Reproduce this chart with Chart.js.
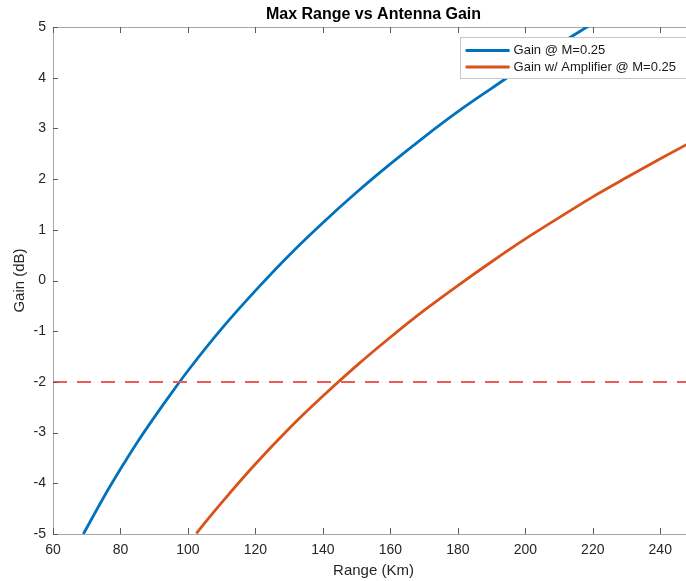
<!DOCTYPE html>
<html>
<head>
<meta charset="utf-8">
<title>Max Range vs Antenna Gain</title>
<script src="https://cdn.jsdelivr.net/npm/chart.js@4.4.1/dist/chart.umd.min.js"></script>
<style>
  html, body { margin: 0; padding: 0; background: #fff; }
  #wrap { width: 686px; height: 581px; overflow: hidden; }
  canvas { display: block; }
</style>
</head>
<body>
<div id="wrap"><canvas id="rangeChart" width="700" height="581"></canvas></div>
<script>
// --------------------------------
// Max range vs antenna gain
// --------------------------------

// Gain @ M=0.25
const rangePlain = [69, 75, 80, 85, 90, 95, 100, 110, 120, 130, 140, 150, 160, 170, 180, 190, 200, 210, 219];
const gainPlain  = [-5.00, -4.28, -3.72, -3.19, -2.70, -2.23, -1.78, -0.95, -0.20, 0.50, 1.14, 1.74, 2.30, 2.83, 3.33, 3.79, 4.24, 4.66, 5.03];

// Gain w/ amplifier @ M=0.25
const rangeAmp = [102.5, 105, 110, 120, 130, 140, 150, 160, 170, 180, 190, 200, 210, 220, 230, 240, 250];
const gainAmp  = [-4.99, -4.78, -4.38, -3.62, -2.92, -2.28, -1.68, -1.12, -0.59, -0.10, 0.37, 0.82, 1.24, 1.65, 2.03, 2.40, 2.76];

// -2 dB reference level
const thresholdRange = [60, 250];
const thresholdGain  = [-2, -2];

// Axis ticks
const xTicks = [60, 80, 100, 120, 140, 160, 180, 200, 220, 240];
const yTicks = [-5, -4, -3, -2, -1, 0, 1, 2, 3, 4, 5];

const FONT = '"Liberation Sans", Arial, Helvetica, sans-serif';
const TEXT = '#262626';
const AXIS = '#a6a6a6';

const toPoints = (xs, ys) => xs.map((x, i) => ({ x, y: ys[i] }));

// MATLAB style ticks pointing into the plot box
const innerTicks = {
  id: 'innerTicks',
  afterDatasetsDraw(chart) {
    const { ctx, chartArea: a, scales } = chart;
    ctx.save();
    ctx.strokeStyle = '#5a5a5a';
    ctx.lineWidth = 1;
    ctx.beginPath();
    scales.x.ticks.forEach(t => {
      const px = Math.round(scales.x.getPixelForValue(t.value)) + 0.5;
      ctx.moveTo(px, a.bottom); ctx.lineTo(px, a.bottom - 6);
      ctx.moveTo(px, a.top); ctx.lineTo(px, a.top + 6);
    });
    scales.y.ticks.forEach(t => {
      const py = Math.round(scales.y.getPixelForValue(t.value)) + 0.5;
      ctx.moveTo(a.left, py); ctx.lineTo(a.left + 5, py);
      ctx.moveTo(a.right, py); ctx.lineTo(a.right - 5, py);
    });
    ctx.stroke();
    ctx.restore();
  }
};

// Legend with a box around it, top right inside the plot
const boxedLegend = {
  id: 'boxedLegend',
  afterDraw(chart) {
    const { ctx, chartArea: a } = chart;
    const items = chart.data.datasets.filter(d => d.label);
    ctx.save();
    ctx.font = '13px ' + FONT;
    const textW = Math.max(...items.map(d => ctx.measureText(d.label).width));
    const w = 54 + textW + 13, h = 41;
    const x = a.right - 5 - w, y = a.top + 10;
    ctx.fillStyle = '#fff';
    ctx.fillRect(x, y, w, h);
    ctx.strokeStyle = '#c8c8c8';
    ctx.lineWidth = 1;
    ctx.strokeRect(Math.round(x) + 0.5, y + 0.5, w, h);
    items.forEach((d, i) => {
      const cy = y + 13.5 + i * 16.5;
      ctx.strokeStyle = d.borderColor;
      ctx.lineWidth = d.borderWidth;
      ctx.beginPath();
      ctx.moveTo(x + 6, cy);
      ctx.lineTo(x + 50, cy);
      ctx.stroke();
      ctx.fillStyle = '#1a1a1a';
      ctx.textBaseline = 'middle';
      ctx.fillText(d.label, x + 54, cy);
    });
    ctx.restore();
  }
};

const canvas = document.getElementById('rangeChart');
const chart = new Chart(canvas.getContext('2d'), {
  type: 'line',
  data: {
    datasets: [
      {
        data: toPoints(thresholdRange, thresholdGain),
        xAxisID: 'x',
        borderColor: '#ee5a5a',
        borderWidth: 2,
        borderDash: [14, 10],
        pointRadius: 0,
        order: 0
      },
      {
        label: 'Gain @ M=0.25',
        data: toPoints(rangePlain, gainPlain),
        xAxisID: 'x',
        borderColor: '#0072BD',
        borderWidth: 2.8,
        pointRadius: 0,
        cubicInterpolationMode: 'monotone',
        order: 2
      },
      {
        label: 'Gain w/ Amplifier @ M=0.25',
        data: toPoints(rangeAmp, gainAmp),
        xAxisID: 'x',
        borderColor: '#D95319',
        borderWidth: 2.8,
        pointRadius: 0,
        cubicInterpolationMode: 'monotone',
        order: 1
      }
    ]
  },
  options: {
    responsive: false,
    animation: false,
    devicePixelRatio: 1,
    layout: { padding: { left: 0, right: 6, top: 0, bottom: 0 } },
    plugins: {
      legend: { display: false },
      tooltip: { enabled: false }
    },
    scales: {
      x: {
        type: 'linear',
        position: 'bottom',
        min: 60,
        max: 250,
        afterBuildTicks: s => { s.ticks = xTicks.map(v => ({ value: v })); },
        afterFit: s => { s.height = 47; },
        grid: { display: false, drawTicks: false },
        border: { display: true, color: AXIS, width: 1 },
        ticks: { color: TEXT, font: { family: FONT, size: 14 }, padding: 8, maxRotation: 0 },
        title: {
          display: true,
          text: 'Range (Km)',
          color: TEXT,
          font: { family: FONT, size: 15 },
          padding: { top: 0, bottom: 1.5 }
        }
      },
      top: {
        type: 'linear',
        position: 'top',
        min: 60,
        max: 250,
        afterFit: s => { s.height = 27; },
        grid: { display: false, drawTicks: false },
        border: { display: true, color: AXIS, width: 1 },
        ticks: { display: false },
        title: {
          display: true,
          text: 'Max Range vs Antenna Gain',
          color: '#000',
          font: { family: FONT, size: 16, weight: 'bold' },
          padding: { top: 5, bottom: 0 }
        }
      },
      y: {
        type: 'linear',
        min: -5,
        max: 5,
        afterBuildTicks: s => { s.ticks = yTicks.map(v => ({ value: v })); },
        afterFit: s => { s.width = 53; },
        grid: { display: false, drawTicks: false },
        border: { display: true, color: AXIS, width: 1 },
        ticks: { color: TEXT, font: { family: FONT, size: 14 }, padding: 7 },
        title: {
          display: true,
          text: 'Gain (dB)',
          color: TEXT,
          font: { family: FONT, size: 15 },
          padding: { top: 11, bottom: 0 }
        }
      }
    }
  },
  plugins: [innerTicks, boxedLegend]
});
</script>
</body>
</html>
